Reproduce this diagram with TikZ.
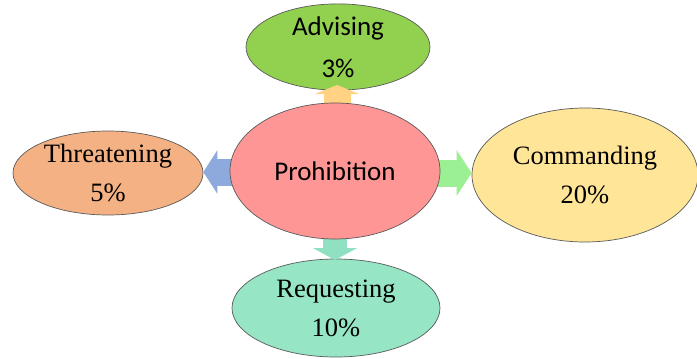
\documentclass[tikz,border=0pt]{standalone}
\usepackage{fontspec}
\setmainfont{Liberation Serif}
\newfontfamily\calib{Carlito}
\usetikzlibrary{shapes.geometric,arrows.meta}
\definecolor{advC}{HTML}{92D050}
\definecolor{proC}{HTML}{FF9696}
\definecolor{thrC}{HTML}{F4B183}
\definecolor{comC}{HTML}{FFE598}
\definecolor{reqC}{HTML}{96E6C6}
\definecolor{upC}{HTML}{FFD383}
\definecolor{leftC}{HTML}{8EA9DB}
\definecolor{rightC}{HTML}{9AF092}
\definecolor{downC}{HTML}{8FE1C2}
\definecolor{edgeC}{HTML}{5A5A5A}
\tikzset{
  bubble/.style={ellipse, draw=edgeC, line width=0.7pt, inner sep=0pt, align=center,
    font=\fontsize{26.5}{39}\selectfont},
  blockarrow/.style={line width=27pt},
}
\begin{document}
\begin{tikzpicture}[x=1pt,y=-1pt]
\useasboundingbox (0,0) rectangle (697,359);
\fill[white] (0,0) rectangle (697,359);
\node[bubble, fill=advC, minimum width=184pt, minimum height=68pt, font=\calib\fontsize{27}{42}\selectfont] (adv) at (338,47) {Advising\\3\%};
\node[bubble, fill=thrC, minimum width=190pt, minimum height=84pt] (thr) at (108,173) {Threatening\\5\%};
\node[bubble, fill=comC, minimum width=226pt, minimum height=134pt] (com) at (585,175) {Commanding\\20\%};
\node[bubble, fill=reqC, minimum width=208pt, minimum height=98pt] (req) at (336,308) {Requesting\\10\%};
% arrow tips
\coordinate (upTip) at (337,85);
\coordinate (leftTip) at (thr.east |- 0,172);
\coordinate (rightTip) at (com.west |- 0,173);
\coordinate (downTip) at (335,260);
% arrows (drawn beneath the central ellipse)
\draw[blockarrow, upC, -{Triangle[width=44pt,length=9pt]}] (upTip |- 0,171) -- (upTip);
\draw[blockarrow, leftC, -{Triangle[width=43pt,length=14pt]}] (leftTip) ++(120,0) -- (leftTip);
\draw[blockarrow, rightC, -{Triangle[width=45pt,length=15pt]}] (rightTip) ++(-120,0) -- (rightTip);
\draw[blockarrow, downC, line width=24pt, -{Triangle[width=44pt,length=12pt]}] (downTip |- 0,171) -- (downTip);
\node[bubble, fill=proC, minimum width=210pt, minimum height=136pt, font=\calib\fontsize{27}{30}\selectfont] (pro) at (335,171) {Prohibition};
\end{tikzpicture}
\end{document}
